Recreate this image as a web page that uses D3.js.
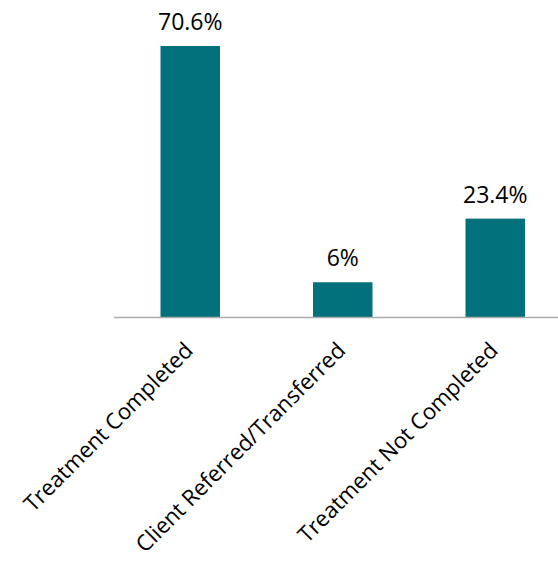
<!DOCTYPE html>
<html>
<head>
<meta charset="utf-8">
<script src="https://cdn.jsdelivr.net/npm/d3@7"></script>
<style>
    html, body { margin: 0; padding: 0; background: #fff; }
    svg { display: block; }
    text { font-family: "Open Sans", "Noto Sans", sans-serif; fill: #000; }
</style>
</head>
<body>
<svg id="chart" width="558" height="562"></svg>
<script>
// data
var categories = ['Treatment Completed', 'Client Referred/Transferred', 'Treatment Not Completed'];
var percents = [70.6, 6, 23.4];
var percentLabels = ['70.6%', '6%', '23.4%'];

var CONFIG = {
    width: 558,
    height: 562,
    axisLeft: 114,
    axisRight: 571.5,
    baseline: 317,
    top: 46,
    barColor: '#03717b',
    fontSize: 23,
    catFontSize: 22.2
};

var svg = d3.select('#chart');

var x = d3.scaleBand()
    .domain(categories)
    .range([CONFIG.axisLeft, CONFIG.axisRight])
    .paddingInner(0.61)
    .paddingOuter(0.305);

// hidden value axis, its minimum sits a little below zero
var y = d3.scaleLinear()
    .domain([-3.5, d3.max(percents)])
    .range([CONFIG.baseline, CONFIG.top]);

var rows = categories.map(function (c, i) {
    return {cat: c, value: percents[i], label: percentLabels[i]};
});

svg.selectAll('rect.bar')
    .data(rows)
    .enter()
    .append('rect')
    .attr('class', 'bar')
    .attr('x', function (d) { return x(d.cat); })
    .attr('width', x.bandwidth())
    .attr('y', function (d) { return y(d.value); })
    .attr('height', function (d) { return y.range()[0] - y(d.value); })
    .style('fill', CONFIG.barColor);

svg.append('line')
    .attr('x1', CONFIG.axisLeft)
    .attr('x2', CONFIG.width)
    .attr('y1', CONFIG.baseline + 0.5)
    .attr('y2', CONFIG.baseline + 0.5)
    .style('stroke', '#ababab')
    .style('stroke-width', 1.5);

svg.selectAll('text.value')
    .data(rows)
    .enter()
    .append('text')
    .attr('class', 'value')
    .attr('x', function (d) { return x(d.cat) + x.bandwidth() / 2; })
    .attr('y', function (d) { return y(d.value) - 16; })
    .style('font-size', CONFIG.fontSize + 'px')
    .style('text-anchor', 'middle')
    .text(function (d) { return d.label; });

// rotated category labels
svg.selectAll('text.cat')
    .data(rows)
    .enter()
    .append('text')
    .attr('class', 'cat')
    .attr('transform', function (d) {
        var cx = x(d.cat) + x.bandwidth() / 2 + 4;
        return 'translate(' + cx + ',' + (CONFIG.baseline + 35) + ') rotate(-45)';
    })
    .style('font-size', CONFIG.catFontSize + 'px')
    .style('text-anchor', 'end')
    .text(function (d) { return d.cat; });
</script>
</body>
</html>
